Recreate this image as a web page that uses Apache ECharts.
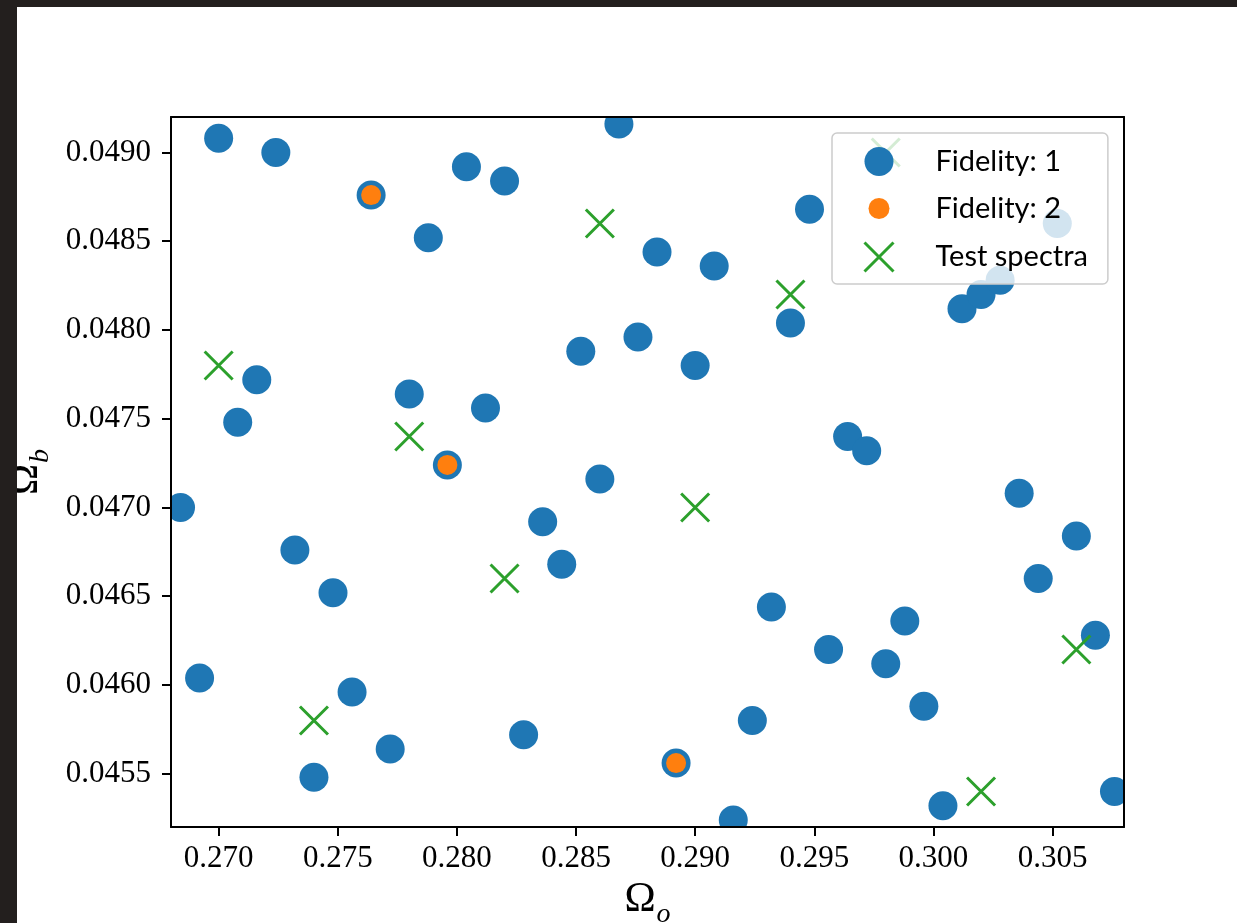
<!DOCTYPE html>
<html>
<head>
<meta charset="utf-8">
<title>Omega_o vs Omega_b samples</title>
<script src="https://cdn.jsdelivr.net/npm/echarts@6.0.0/dist/echarts.min.js"></script>
<style>
  html, body { margin: 0; padding: 0; width: 1237px; height: 923px; overflow: hidden; background: #231f1e; }
  #chart { position: absolute; left: 17px; top: 7px; width: 1220px; height: 916px; background: #fff; }
</style>
</head>
<body>
<div id="chart"></div>
<script>
// fidelity 1 samples
var fid1X = [0.2700, 0.2724, 0.2764, 0.2788, 0.2804, 0.2820, 0.2868, 0.2884, 0.2908, 0.2948,
             0.2940, 0.2852, 0.2876, 0.2900, 0.2716, 0.2708, 0.2780, 0.2812, 0.2796, 0.2684,
             0.2732, 0.2748, 0.2836, 0.2860, 0.2844, 0.2964, 0.2972, 0.3036, 0.3060, 0.3044,
             0.2932, 0.2988, 0.2956, 0.2980, 0.3068, 0.2996, 0.3004, 0.3076, 0.2924, 0.2916,
             0.2892, 0.2828, 0.2692, 0.2756, 0.2740, 0.2772, 0.3012, 0.3020, 0.3028, 0.3052];
var fid1Y = [0.04908, 0.04900, 0.04876, 0.04852, 0.04892, 0.04884, 0.04916, 0.04844, 0.04836, 0.04868,
             0.04804, 0.04788, 0.04796, 0.04780, 0.04772, 0.04748, 0.04764, 0.04756, 0.04724, 0.04700,
             0.04676, 0.04652, 0.04692, 0.04716, 0.04668, 0.04740, 0.04732, 0.04708, 0.04684, 0.04660,
             0.04644, 0.04636, 0.04620, 0.04612, 0.04628, 0.04588, 0.04532, 0.04540, 0.04580, 0.04524,
             0.04556, 0.04572, 0.04604, 0.04596, 0.04548, 0.04564, 0.04812, 0.04820, 0.04828, 0.04860];

// fidelity 2 samples
var fid2X = [0.2764, 0.2796, 0.2892];
var fid2Y = [0.04876, 0.04724, 0.04556];

// test spectra
var testX = [0.270, 0.274, 0.278, 0.282, 0.286, 0.290, 0.294, 0.298, 0.302, 0.306];
var testY = [0.0478, 0.0458, 0.0474, 0.0466, 0.0486, 0.0470, 0.0482, 0.0490, 0.0454, 0.0462];

var xTicks = [0.270, 0.275, 0.280, 0.285, 0.290, 0.295, 0.300, 0.305];
var yTicks = [0.0455, 0.0460, 0.0465, 0.0470, 0.0475, 0.0480, 0.0485, 0.0490];
var xRange = [0.268, 0.308];
var yRange = [0.0452, 0.0492];

function zip(a, b) {
  return a.map(function (v, i) { return [v, b[i]]; });
}

var G = { left: 154, top: 110, width: 953, height: 710 };
var W = 1220, H = 916;

var chart = echarts.init(document.getElementById('chart'), null, { renderer: 'canvas' });

var tickFont = { fontFamily: 'Liberation Serif', fontSize: 31, color: '#000' };
var nameRich = {
  a: { fontFamily: 'Liberation Serif', fontSize: 42, lineHeight: 46, verticalAlign: 'top', color: '#000' },
  s: { fontFamily: 'Liberation Serif', fontStyle: 'italic', fontSize: 28, lineHeight: 28, padding: [22, 0, 0, 1], verticalAlign: 'top', color: '#000' }
};

// white masks so markers get clipped at the axes box
var masks = [
  { x: 0, y: 0, width: G.left, height: H },
  { x: G.left + G.width, y: 0, width: W - G.left - G.width, height: H },
  { x: G.left, y: 0, width: G.width, height: G.top },
  { x: G.left, y: G.top + G.height, width: G.width, height: H - G.top - G.height }
].map(function (r) {
  return { type: 'rect', shape: r, style: { fill: '#fff' }, z: 5, silent: true };
});

chart.setOption({
  animation: false,
  grid: { left: G.left, top: G.top, width: G.width, height: G.height, outerBoundsMode: 'none', containLabel: false },
  graphic: masks,
  xAxis: [{
    type: 'value', min: xRange[0], max: xRange[1], z: 10,
    name: '{a|Ω}{s|o}', nameLocation: 'middle', nameGap: 50,
    nameTextStyle: { rich: nameRich },
    axisLine: { lineStyle: { color: '#000', width: 2 } },
    axisTick: { show: true, inside: false, length: 9, lineStyle: { color: '#000', width: 2 }, customValues: xTicks },
    axisLabel: { margin: 16, customValues: xTicks, formatter: function (v) { return v.toFixed(3); }, fontFamily: tickFont.fontFamily, fontSize: tickFont.fontSize, color: tickFont.color },
    splitLine: { show: false }
  }, {
    type: 'value', position: 'top', min: xRange[0], max: xRange[1], z: 10,
    axisLine: { onZero: false, lineStyle: { color: '#000', width: 2 } },
    axisTick: { show: false }, axisLabel: { show: false }, splitLine: { show: false }
  }],
  yAxis: [{
    type: 'value', min: yRange[0], max: yRange[1], z: 10,
    name: '{a|Ω}{s|b}', nameLocation: 'middle', nameGap: 101, nameRotate: 90,
    nameTextStyle: { rich: nameRich },
    axisLine: { show: true, lineStyle: { color: '#000', width: 2 } },
    axisTick: { show: true, inside: false, length: 9, lineStyle: { color: '#000', width: 2 }, customValues: yTicks },
    axisLabel: { margin: 20, customValues: yTicks, formatter: function (v) { return v.toFixed(4); }, fontFamily: tickFont.fontFamily, fontSize: tickFont.fontSize, color: tickFont.color },
    splitLine: { show: false }
  }, {
    type: 'value', position: 'right', min: yRange[0], max: yRange[1], z: 10,
    axisLine: { show: true, onZero: false, lineStyle: { color: '#000', width: 2 } },
    axisTick: { show: false }, axisLabel: { show: false }, splitLine: { show: false }
  }],
  legend: {
    orient: 'vertical',
    left: 815, top: 126,
    padding: [14, 20, 11, 31],
    itemWidth: 29, itemHeight: 29, itemGap: 18,
    backgroundColor: 'rgba(255,255,255,0.8)',
    borderColor: '#cccccc', borderWidth: 1.5, borderRadius: 5,
    textStyle: { fontFamily: 'Lato', fontSize: 29, color: '#000', padding: [0, 0, 0, 37] },
    data: [
      { name: 'Fidelity: 1', icon: 'circle' },
      { name: 'Fidelity: 2', icon: 'path://M0,0M29,29M25,14.5A10.5,10.5,0,1,1,4,14.5A10.5,10.5,0,1,1,25,14.5Z' },
      { name: 'Test spectra', icon: 'path://M1,1L28,28M28,1L1,28',
        itemStyle: { color: 'transparent', borderColor: '#2ca02c', borderWidth: 3 } }
    ]
  },
  series: [{
    name: 'Fidelity: 1',
    type: 'scatter',
    symbol: 'circle',
    symbolSize: 29,
    itemStyle: { color: '#1f77b4', opacity: 1 },
    data: zip(fid1X, fid1Y)
  }, {
    name: 'Fidelity: 2',
    type: 'scatter',
    symbol: 'circle',
    symbolSize: 20,
    itemStyle: { color: '#ff7f0e', opacity: 1 },
    data: zip(fid2X, fid2Y)
  }, {
    name: 'Test spectra',
    type: 'scatter',
    symbol: 'path://M0,0L10,10M10,0L0,10',
    symbolSize: 28,
    itemStyle: { color: 'transparent', borderColor: '#2ca02c', borderWidth: 3, opacity: 1 },
    data: zip(testX, testY)
  }]
});
</script>
</body>
</html>
